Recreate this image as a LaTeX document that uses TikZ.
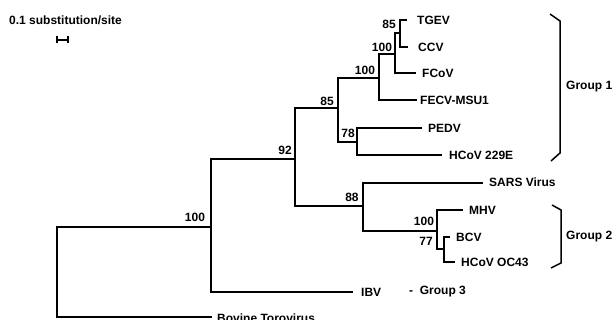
\documentclass[tikz,border=0pt]{standalone}
\usepackage{fontspec}
\setmainfont{Liberation Sans}
\begin{document}
\begin{tikzpicture}[x=1pt,y=-1pt,
  branch/.style={line width=1.8pt, line join=miter},
  bracket/.style={line width=1.5pt, line join=miter},
  txt/.style={font=\bfseries\fontsize{12}{14}\selectfont, inner sep=0pt},
  leaf/.style={txt, anchor=west},
  boot/.style={txt, anchor=center}]
\useasboundingbox (0,0) rectangle (614,320);
% scale
\node[leaf] (scaletxt) at (9,20) {0.1 substitution/site};
\coordinate (sbL) at (57,40);
\coordinate (sbR) at (68,40);
\draw[bracket] (sbL) -- (sbR);
\draw[bracket] ([yshift=-3.5pt]sbL) -- ([yshift=3.5pt]sbL);
\draw[bracket] ([yshift=-3.5pt]sbR) -- ([yshift=3.5pt]sbR);
% internal nodes
\coordinate (R) at (57,272);
\coordinate (A) at (211,227);
\coordinate (B) at (295,159);
\coordinate (C) at (338,108);
\coordinate (D) at (379,78);
\coordinate (E) at (395,54);
\coordinate (F) at (400,33);
\coordinate (G) at (357,142);
\coordinate (H) at (363,206);
\coordinate (I) at (437,231);
\coordinate (J) at (444,249);
% leaf ends
\coordinate (tgev) at (407,20);
\coordinate (ccv) at (408,47);
\coordinate (fcov) at (416,73);
\coordinate (fecv) at (417,100);
\coordinate (pedv) at (422,128);
\coordinate (hcov) at (442,155);
\coordinate (sars) at (483,183);
\coordinate (mhv) at (463,210);
\coordinate (bcv) at (450,237);
\coordinate (oc43) at (455,262);
\coordinate (ibv) at (353,292);
\coordinate (bov) at (212,317);
% branches
\draw[branch] (R) |- (A);
\draw[branch] (R) |- (bov);
\draw[branch] (A) |- (B);
\draw[branch] (A) |- (ibv);
\draw[branch] (B) |- (C);
\draw[branch] (B) |- (H);
\draw[branch] (C) |- (D);
\draw[branch] (C) |- (G);
\draw[branch] (D) |- (E);
\draw[branch] (D) |- (fecv);
\draw[branch] (E) |- (F);
\draw[branch] (E) |- (fcov);
\draw[branch] (F) |- (tgev);
\draw[branch] (F) |- (ccv);
\draw[branch] (G) |- (pedv);
\draw[branch] (G) |- (hcov);
\draw[branch] (H) |- (sars);
\draw[branch] (H) |- (I);
\draw[branch] (I) |- (mhv);
\draw[branch] (I) |- (J);
\draw[branch] (J) |- (bcv);
\draw[branch] (J) |- (oc43);
% leaf labels
\node[leaf] (tgevL) at (417,20) {TGEV};
\node[leaf] (ccvL) at (418,47) {CCV};
\node[leaf] (fcovL) at (422,73) {FCoV};
\node[leaf] (fecvL) at (420,100) {FECV-MSU1};
\node[leaf] (pedvL) at (428,128) {PEDV};
\node[leaf] (hcovL) at (449,155) {HCoV 229E};
\node[leaf] (sarsL) at (489,182) {SARS Virus};
\node[leaf] (mhvL) at (469,210) {MHV};
\node[leaf] (bcvL) at (456,237) {BCV};
\node[leaf] (oc43L) at (461,262) {HCoV OC43};
\node[leaf] (ibvL) at (361,292) {IBV};
\node[leaf] (g3L) at (409,292) {-\ \ Group 3};
\node[leaf] (bovL) at (217,318) {Bovine Torovirus};
% bootstrap values
\node[boot] (bA) at (195,217) {100};
\node[boot] (bB) at (285,150) {92};
\node[boot] (bC) at (327,101) {85};
\node[boot] (bD) at (365,70) {100};
\node[boot] (bE) at (382,47) {100};
\node[boot] (bF) at (389,24) {85};
\node[boot] (bG) at (348,133) {78};
\node[boot] (bH) at (352,197) {88};
\node[boot] (bI) at (424,221) {100};
\node[boot] (bJ) at (426,241) {77};
% group brackets
\coordinate (g1a) at (550,14);
\coordinate (g1b) at (560,21);
\coordinate (g1c) at (560,153);
\coordinate (g1d) at (551,161);
\draw[bracket] (g1a) -- (g1b) -- (g1c) -- (g1d);
\node[leaf] (g1L) at (566,87) {Group 1};
\coordinate (g2a) at (552,205);
\coordinate (g2b) at (561,210);
\coordinate (g2c) at (561,263);
\coordinate (g2d) at (551,268);
\draw[bracket] (g2a) -- (g2b) -- (g2c) -- (g2d);
\node[leaf] (g2L) at (566,237) {Group 2};
\end{tikzpicture}
\end{document}
